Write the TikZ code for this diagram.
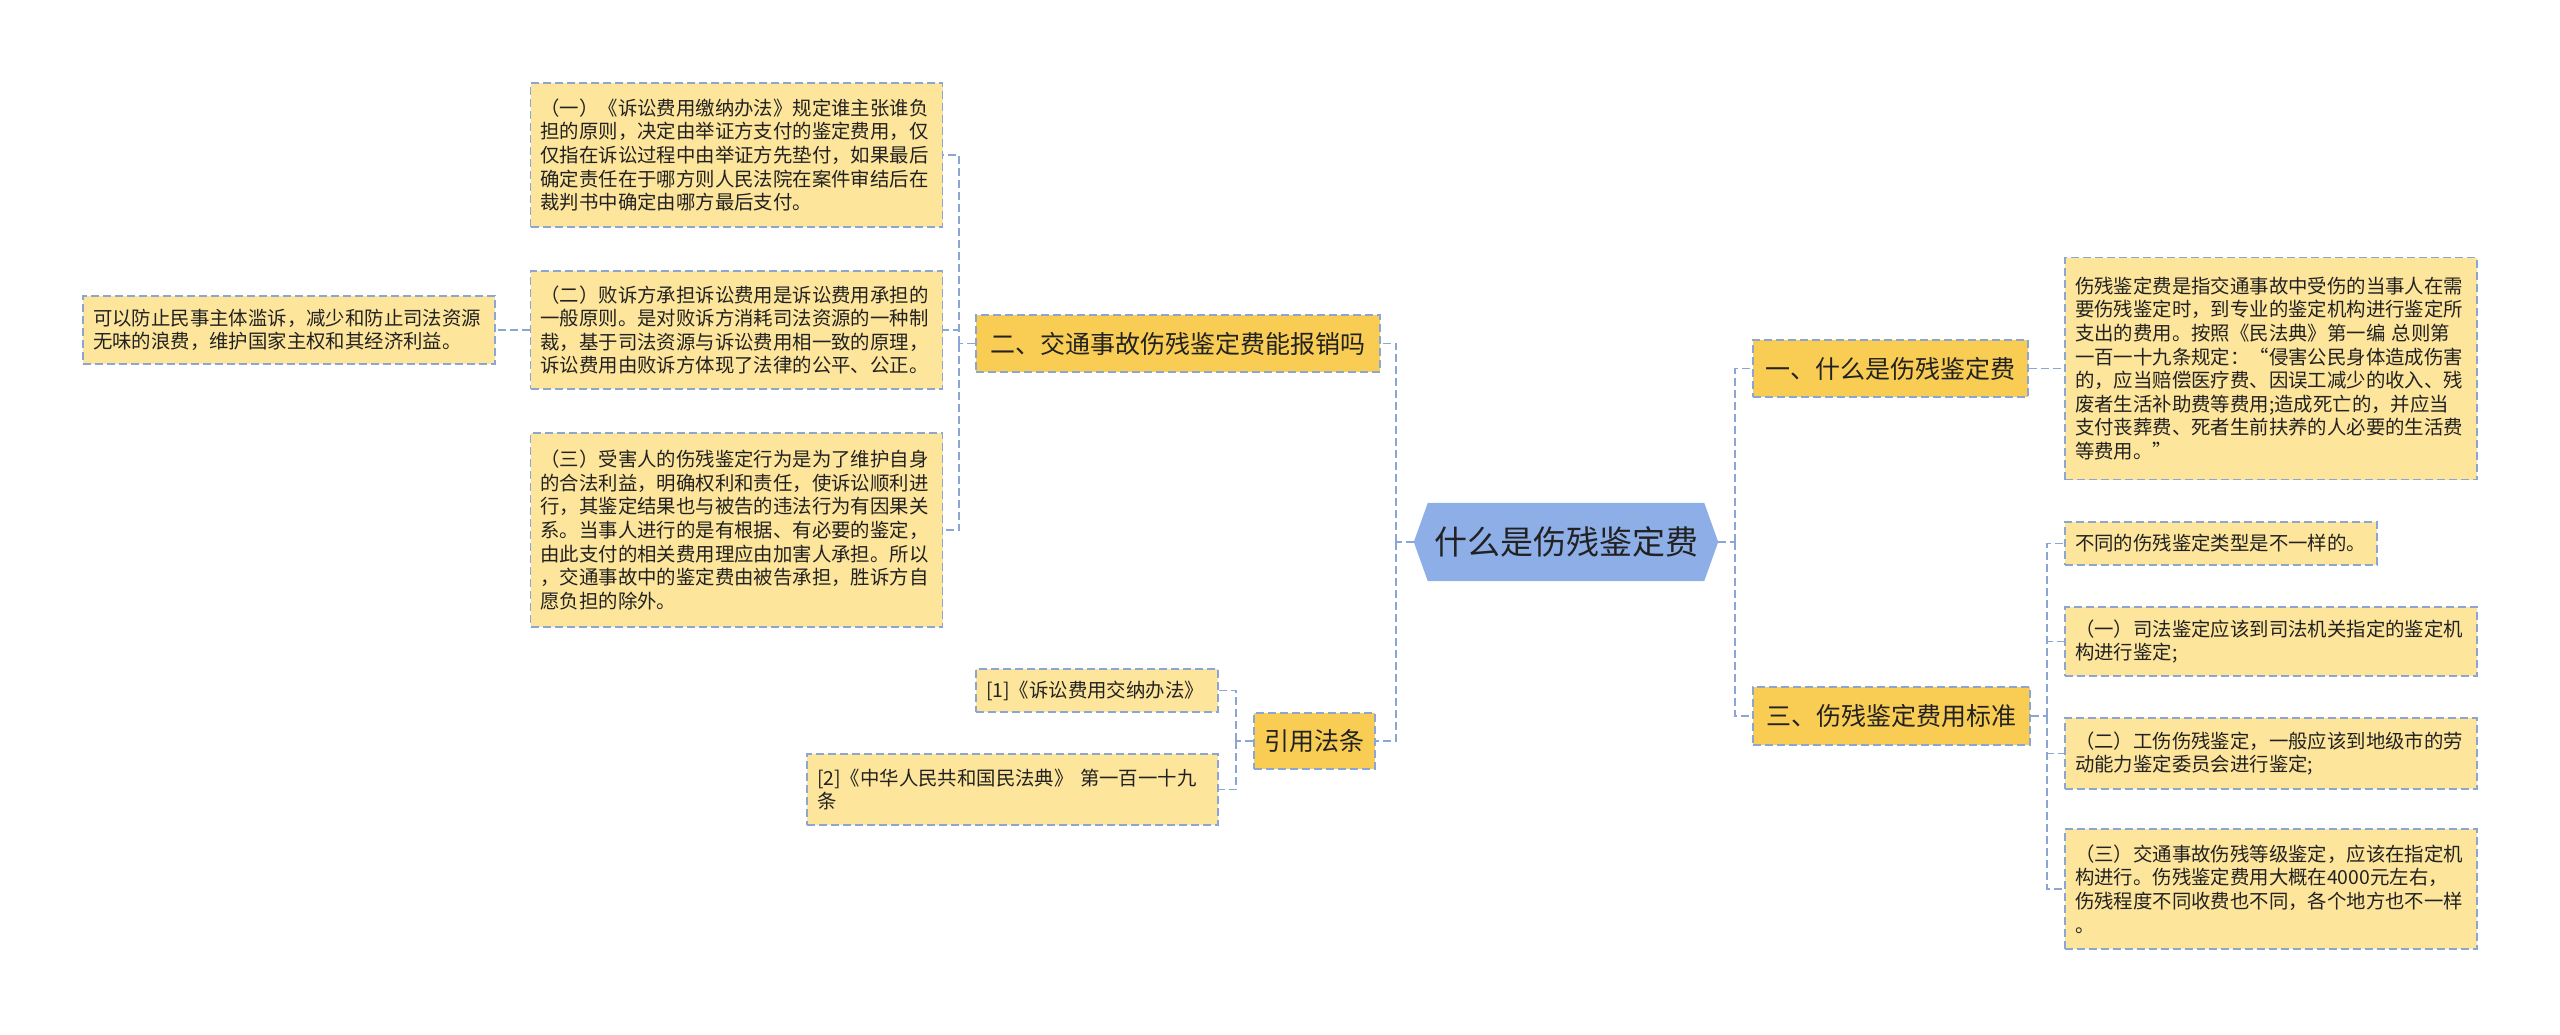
\documentclass[tikz,border=0pt]{standalone}
\usepackage{fontspec}
\setmainfont{Noto Sans CJK SC}
\usepackage{xcolor}
\usepackage{tikz}
\usetikzlibrary{backgrounds}

\definecolor{edge}{HTML}{8CA6D4}
\definecolor{leafbg}{HTML}{FDE59C}
\definecolor{topicbg}{HTML}{F9CD53}
\definecolor{rootbg}{HTML}{8EAEE8}
\definecolor{ink}{HTML}{222222}

\begin{document}
\begin{tikzpicture}[
        x=1pt, y=-1pt,
        font=\fontsize{19.4}{23.6}\selectfont,
        leaf/.style={draw=edge, line width=1.4pt, dash pattern=on 8pt off 4pt, fill=leafbg, text=ink, align=left, text width=392pt, inner xsep=10pt, inner ysep=0pt},
        topic/.style={draw=edge, line width=1.4pt, dash pattern=on 8pt off 4pt, fill=topicbg, text=ink, font=\fontsize{25}{30}\selectfont, inner sep=0pt, minimum height=57pt},
        root/.style={text=ink, font=\fontsize{33}{40}\selectfont, inner sep=0pt, minimum width=304pt, minimum height=78pt},
        link/.style={draw=edge, line width=1.6pt, dash pattern=on 8pt off 4pt}
    ]
        \useasboundingbox (0,0) rectangle (2560,1034);

        % centre
        \node[root] (root) at (1566,542) {什么是伤残鉴定费};
        \begin{scope}[on background layer]
            \fill[rootbg] (root.west) -- ([xshift=14pt]root.north west) -- ([xshift=-14pt]root.north east)
                -- (root.east) -- ([xshift=-14pt]root.south east) -- ([xshift=14pt]root.south west) -- cycle;
        \end{scope}

        % left side
        \node[topic, minimum width=404pt] (q2) at (1178,343.5) {二、交通事故伤残鉴定费能报销吗};
        \node[topic, minimum width=121pt, minimum height=56pt] (law) at (1314.5,741) {引用法条};

        \node[leaf, minimum height=144pt] (a1) at (736.5,155) {（一）《诉讼费用缴纳办法》规定谁主张谁负\\担的原则，决定由举证方支付的鉴定费用，仅\\仅指在诉讼过程中由举证方先垫付，如果最后\\确定责任在于哪方则人民法院在案件审结后在\\裁判书中确定由哪方最后支付。};
        \node[leaf, minimum height=118pt] (a2) at (736.5,330) {（二）败诉方承担诉讼费用是诉讼费用承担的\\一般原则。是对败诉方消耗司法资源的一种制\\裁，基于司法资源与诉讼费用相一致的原理，\\诉讼费用由败诉方体现了法律的公平、公正。};
        \node[leaf, minimum height=194pt] (a3) at (736.5,530) {（三）受害人的伤残鉴定行为是为了维护自身\\的合法利益，明确权利和责任，使诉讼顺利进\\行，其鉴定结果也与被告的违法行为有因果关\\系。当事人进行的是有根据、有必要的鉴定，\\由此支付的相关费用理应由加害人承担。所以\\，交通事故中的鉴定费由被告承担，胜诉方自\\愿负担的除外。};
        \node[leaf, minimum height=68pt] (a2x) at (289,330) {可以防止民事主体滥诉，减少和防止司法资源\\无味的浪费，维护国家主权和其经济利益。};

        \node[leaf, text width=222pt, minimum height=43pt] (ref1) at (1097,690.5) {[1]《诉讼费用交纳办法》};
        \node[leaf, text width=391pt, minimum height=71pt] (ref2) at (1012.5,789.5) {[2]《中华人民共和国民法典》 第一百一十九\\条};

        % right side
        \node[topic, minimum width=275pt] (q1) at (1890.5,368.5) {一、什么是伤残鉴定费};
        \node[topic, minimum width=277pt, minimum height=58pt] (q3) at (1891.5,716) {三、伤残鉴定费用标准};

        \node[leaf, minimum height=222pt] (def) at (2271,368.5) {伤残鉴定费是指交通事故中受伤的当事人在需\\要伤残鉴定时，到专业的鉴定机构进行鉴定所\\支出的费用。按照《民法典》第一编 总则第\\一百一十九条规定：“侵害公民身体造成伤害\\的，应当赔偿医疗费、因误工减少的收入、残\\废者生活补助费等费用;造成死亡的，并应当\\支付丧葬费、死者生前扶养的人必要的生活费\\等费用。”};

        \node[leaf, text width=292pt, minimum height=43pt] (s0) at (2221,543.5) {不同的伤残鉴定类型是不一样的。};
        \node[leaf, minimum height=69pt] (s1) at (2271,641.5) {（一）司法鉴定应该到司法机关指定的鉴定机\\构进行鉴定;};
        \node[leaf, minimum height=71pt] (s2) at (2271,753.5) {（二）工伤伤残鉴定，一般应该到地级市的劳\\动能力鉴定委员会进行鉴定;};
        \node[leaf, minimum height=120pt] (s3) at (2271,889) {（三）交通事故伤残等级鉴定，应该在指定机\\构进行。伤残鉴定费用大概在4000元左右，\\伤残程度不同收费也不同，各个地方也不一样\\。};

        % junctions
        \coordinate (jL) at (1396,542);
        \coordinate (jA) at (959,343.5);
        \coordinate (jB) at (1236,741);
        \coordinate (jR) at (1735,542);
        \coordinate (jC) at (2047,716);

        \draw[link] (root.west) -- (jL);
        \draw[link] (jL) |- (q2.east);
        \draw[link] (jL) |- (law.east);

        \draw[link] (q2.west) -- (jA);
        \draw[link] (jA) |- (a1.east);
        \draw[link] (jA) |- (a2.east);
        \draw[link] (jA) |- (a3.east);
        \draw[link] (a2.west) -- (a2x.east);

        \draw[link] (law.west) -- (jB);
        \draw[link] (jB) |- (ref1.east);
        \draw[link] (jB) |- (ref2.east);

        \draw[link] (root.east) -- (jR);
        \draw[link] (jR) |- (q1.west);
        \draw[link] (jR) |- (q3.west);
        \draw[link] (q1.east) -- (def.west);

        \draw[link] (q3.east) -- (jC);
        \draw[link] (jC) |- (s0.west);
        \draw[link] (jC) |- (s1.west);
        \draw[link] (jC) |- (s2.west);
        \draw[link] (jC) |- (s3.west);
    \end{tikzpicture}
\end{document}
